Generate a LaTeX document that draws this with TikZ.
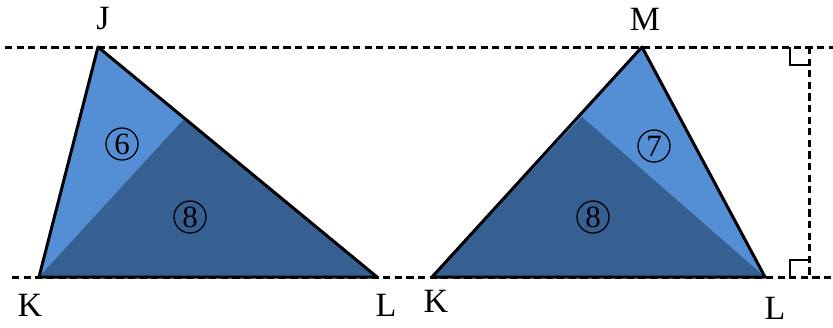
\documentclass[tikz,border=0pt]{standalone}
\usepackage{fontspec}
\setmainfont{Liberation Serif}
\definecolor{lightpart}{RGB}{84,142,213}
\definecolor{darkpart}{RGB}{54,96,146}
\tikzset{
  guide/.style={line width=1.5pt,dash pattern=on 3.6pt off 2.2pt},
  edge/.style={line width=1.5pt,line join=round},
  vlabel/.style={font=\fontsize{17}{19}\selectfont},
  part/.style={circle,draw,line width=0.65pt,inner sep=0pt,minimum size=16pt,
    font=\fontsize{15.5}{17}\selectfont}
}
\begin{document}
\begin{tikzpicture}[x=0.5pt,y=-0.5pt]
\useasboundingbox (0,0) rectangle (833,327);
% left triangle
\coordinate (J) at (98,47);
\coordinate (K1) at (39,277);
\coordinate (L1) at (377,277);
\coordinate (P1) at (184,119);
\fill[lightpart] (J) -- (K1) -- (L1) -- cycle;
\fill[darkpart] (K1) -- (P1) -- (L1) -- cycle;
% right triangle
\coordinate (M) at (642,47);
\coordinate (K2) at (432,277);
\coordinate (L2) at (765,277);
\coordinate (P2) at (582,117);
\fill[lightpart] (M) -- (K2) -- (L2) -- cycle;
\fill[darkpart] (K2) -- (P2) -- (L2) -- cycle;
\draw[edge] (J) -- (K1) -- (L1) -- cycle;
\draw[edge] (M) -- (K2) -- (L2) -- cycle;
% guide lines
\coordinate (topA) at (5,47);
\coordinate (topB) at (833,47);
\coordinate (botA) at (12,277);
\coordinate (botB) at (833,277);
\coordinate (hT) at (809,47);
\coordinate (hB) at (809,277);
\draw[guide] (topA) -- (topB);
\draw[guide] (botA) -- (botB);
\draw[guide] (hT) -- (hB);
\draw[line width=1.4pt] (790,47) |- (809,65);
\draw[line width=1.4pt] (790,277) |- (809,260);
% labels
\node[vlabel] (labJ) at (103,19) {J};
\node[vlabel] (labK1) at (30,305) {K};
\node[vlabel] (labL1) at (386,305) {L};
\node[vlabel] (labM) at (645,19) {M};
\node[vlabel] (labK2) at (436,301) {K};
\node[vlabel] (labL2) at (775,308) {L};
\node[part] (six) at (122,144) {6};
\node[part] (eightA) at (190,217) {8};
\node[part] (seven) at (654,146) {7};
\node[part] (eightB) at (593,217) {8};
\end{tikzpicture}
\end{document}
